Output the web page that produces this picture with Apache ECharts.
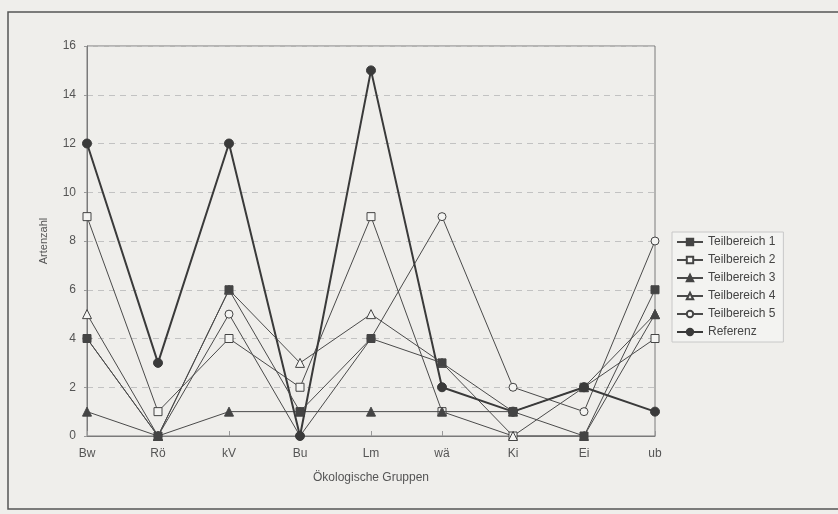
<!DOCTYPE html>
<html>
<head>
<meta charset="utf-8">
<script src="https://cdn.jsdelivr.net/npm/echarts@6/dist/echarts.min.js"></script>
<style>
  html, body { margin: 0; padding: 0; background: #efeeeb; }
  #chart { width: 838px; height: 514px; }
</style>
</head>
<body>
<div id="chart"></div>
<script>
// Ökologische Gruppen (x axis)
const categories = ['Bw', 'Rö', 'kV', 'Bu', 'Lm', 'wä', 'Ki', 'Ei', 'ub'];

// Artenzahl per ecological group
const teil1 = [4, 0, 6, 1, 4, 3, 1, 0, 6];
const teil2 = [9, 1, 4, 2, 9, 1, 0, 2, 4];
const teil3 = [1, 0, 1, 1, 1, 1, 1, 2, 5];
const teil4 = [5, 0, 6, 3, 5, 3, 0, 0, 5];
const teil5 = [4, 0, 5, 0, 4, 9, 2, 1, 8];
const referenz = [12, 3, 12, 0, 15, 2, 1, 2, 1];

const yTicks = { min: 0, max: 16, interval: 2 };

// z: filled-square series sits on top of the others
const seriesDefs = [
  { name: 'Teilbereich 1', data: teil1, symbol: 'rect', size: 8, filled: true, z: 6 },
  { name: 'Teilbereich 2', data: teil2, symbol: 'rect', size: 8, filled: false, z: 2 },
  { name: 'Teilbereich 3', data: teil3, symbol: 'triangle', size: 9, filled: true, z: 3 },
  { name: 'Teilbereich 4', data: teil4, symbol: 'triangle', size: 9, filled: false, z: 2 },
  { name: 'Teilbereich 5', data: teil5, symbol: 'circle', size: 8, filled: false, z: 2 },
  { name: 'Referenz', data: referenz, symbol: 'circle', size: 9, filled: true, bold: true, z: 5 }
];

const lineColor = '#4a4a4a';
const chart = echarts.init(document.getElementById('chart'));

chart.setOption({
  backgroundColor: '#efeeeb',
  animation: false,
  textStyle: { fontFamily: 'Liberation Sans, Arial, sans-serif' },
  graphic: [
    {
      type: 'rect',
      shape: { x: 8, y: 12, width: 840, height: 497 },
      style: { fill: 'none', stroke: '#555', lineWidth: 1.5 },
      silent: true
    }
  ],
  grid: {
    left: 87, right: 183, top: 46, bottom: 78,
    show: true, borderColor: '#7a7a7a', borderWidth: 1,
    backgroundColor: 'transparent'
  },
  legend: {
    orient: 'vertical',
    left: 672, top: 232,
    itemWidth: 26, itemHeight: 8, itemGap: 6,
    padding: [4, 8, 4, 4],
    borderColor: '#c8c8c8', borderWidth: 1,
    backgroundColor: '#f3f3f1',
    textStyle: { color: '#444', fontSize: 12 },
    data: seriesDefs.map(d => d.name)
  },
  xAxis: {
    type: 'category',
    data: categories,
    boundaryGap: false,
    name: 'Ökologische Gruppen',
    nameLocation: 'middle',
    nameGap: 36,
    nameTextStyle: { color: '#555', fontSize: 12 },
    axisLine: { lineStyle: { color: '#7a7a7a' } },
    axisTick: { show: true, inside: true, length: 5, lineStyle: { color: '#999' } },
    axisLabel: { color: '#555', fontSize: 12, margin: 12 },
    splitLine: { show: false }
  },
  yAxis: {
    type: 'value',
    min: yTicks.min, max: yTicks.max, interval: yTicks.interval,
    name: 'Artenzahl',
    nameLocation: 'middle',
    nameGap: 38,
    nameTextStyle: { color: '#555', fontSize: 11 },
    axisLine: { show: true, lineStyle: { color: '#7a7a7a' } },
    axisTick: { show: true, length: 3, lineStyle: { color: '#999' } },
    axisLabel: { color: '#555', fontSize: 12, margin: 11 },
    splitLine: { show: true, lineStyle: { color: '#c2c2c2', type: [6, 5], width: 1 } }
  },
  series: seriesDefs.map(d => ({
    name: d.name,
    type: 'line',
    data: d.data,
    symbol: d.symbol,
    symbolSize: d.size,
    showAllSymbol: true,
    lineStyle: { color: d.bold ? '#3a3a3a' : lineColor, width: d.bold ? 2 : 1 },
    itemStyle: {
      color: d.filled ? (d.bold ? '#3a3a3a' : '#444') : '#f4f4f2',
      borderColor: d.bold ? '#3a3a3a' : '#444',
      borderWidth: 1
    },
    z: d.z
  }))
});
</script>
</body>
</html>
